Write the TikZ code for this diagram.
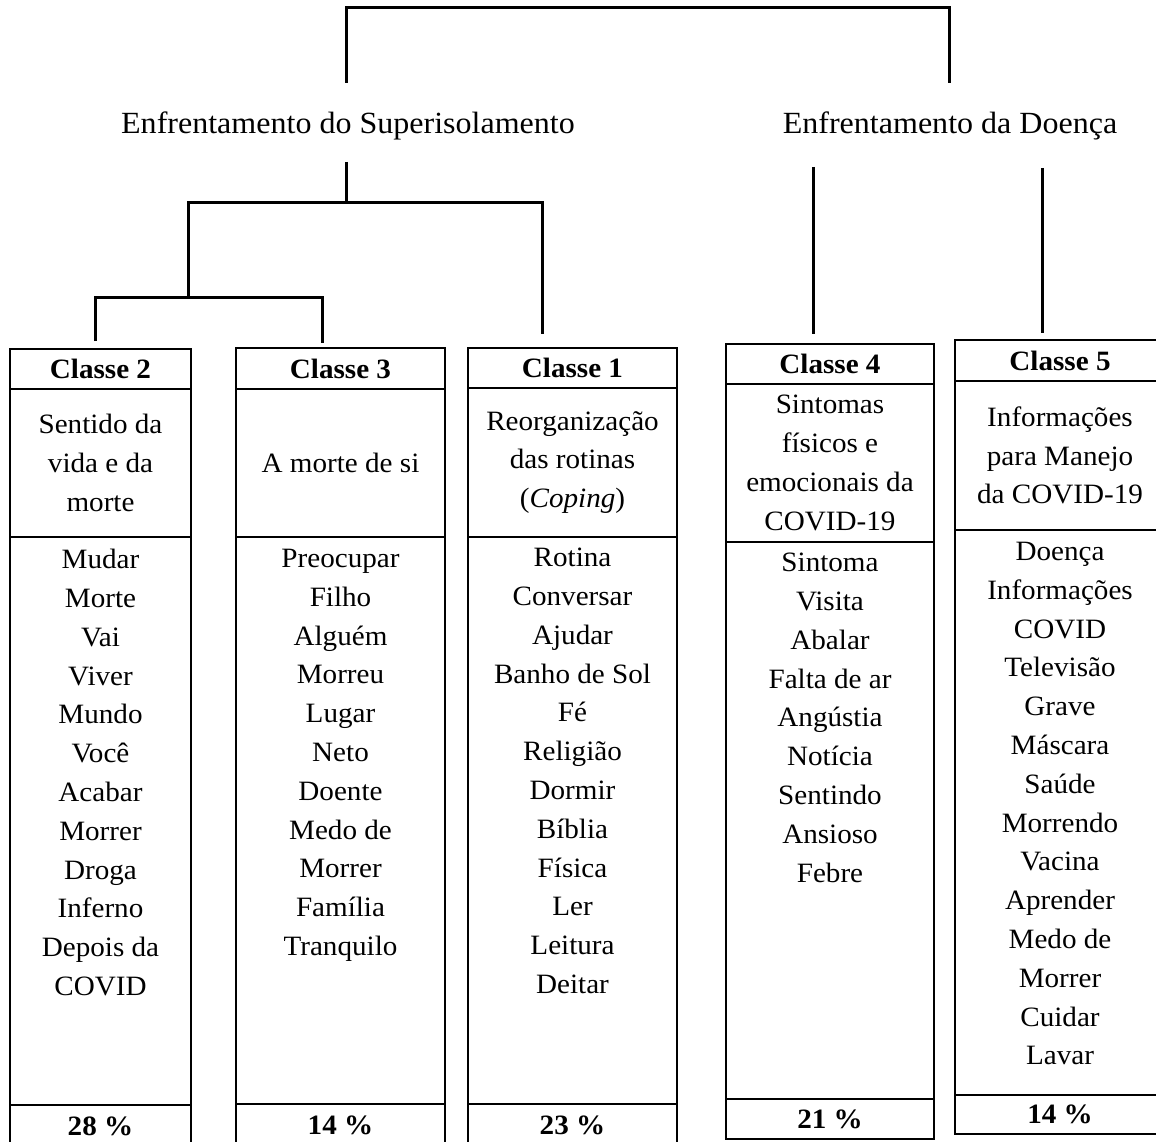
\documentclass[tikz,border=0pt]{standalone}
\usepackage{fontspec}
\setmainfont{Liberation Serif}[FakeStretch=1.04]
\usetikzlibrary{positioning}
\tikzset{
cell/.style={draw,line width=2pt,inner sep=0pt,outer sep=0pt,align=center,font=\fontsize{28pt}{38.8pt}\selectfont},
head/.style={cell,font=\fontsize{28pt}{38.8pt}\selectfont\bfseries},
words/.style={inner sep=0pt,align=center,font=\fontsize{28pt}{38.8pt}\selectfont},
group/.style={inner sep=0pt,font=\fontsize{30.8pt}{38pt}\selectfont},
link/.style={line width=3pt}}

\begin{document}
\begin{tikzpicture}[x=1pt,y=-1pt]
\useasboundingbox (0,0) rectangle (1156,1142);
% the two groups
\node[group,anchor=base] (sup) at (348,134) {Enfrentamento do Superisolamento};
\node[group,anchor=base] (doe) at (950,134) {Enfrentamento da Doença};
% Classe 2
\node[head,minimum width=181pt,minimum height=40pt] (c2h) at (100.5,369) {Classe 2};
\node[cell,minimum width=181pt,minimum height=148pt,below=0pt of c2h] (c2t) {Sentido da\\vida e da\\morte};
\node[cell,minimum width=181pt,minimum height=568pt,below=0pt of c2t] (c2l) {};
\node[head,minimum width=181pt,minimum height=42pt,below=0pt of c2l] (c2p) {28 \%};
\node[words,below=12pt of c2l.north] (c2w) {Mudar\\Morte\\Vai\\Viver\\Mundo\\Você\\Acabar\\Morrer\\Droga\\Inferno\\Depois da\\COVID};
% Classe 3
\node[head,minimum width=209pt,minimum height=41pt] (c3h) at (340.5,368.5) {Classe 3};
\node[cell,minimum width=209pt,minimum height=148pt,below=0pt of c3h] (c3t) {A morte de si};
\node[cell,minimum width=209pt,minimum height=567pt,below=0pt of c3t] (c3l) {};
\node[head,minimum width=209pt,minimum height=43pt,below=0pt of c3l] (c3p) {14 \%};
\node[words,below=12pt of c3l.north] (c3w) {Preocupar\\Filho\\Alguém\\Morreu\\Lugar\\Neto\\Doente\\Medo de\\Morrer\\Família\\Tranquilo};
% Classe 1
\node[head,minimum width=209pt,minimum height=40pt] (c1h) at (572.5,368) {Classe 1};
\node[cell,minimum width=209pt,minimum height=149pt,below=0pt of c1h] (c1t) {Reorganização\\das rotinas\\(\textit{Coping})};
\node[cell,minimum width=209pt,minimum height=567pt,below=0pt of c1t] (c1l) {};
\node[head,minimum width=209pt,minimum height=43pt,below=0pt of c1l] (c1p) {23 \%};
\node[words,below=11pt of c1l.north] (c1w) {Rotina\\Conversar\\Ajudar\\Banho de Sol\\Fé\\Religião\\Dormir\\Bíblia\\Física\\Ler\\Leitura\\Deitar};
% Classe 4
\node[head,minimum width=208pt,minimum height=40pt] (c4h) at (830,364) {Classe 4};
\node[cell,minimum width=208pt,minimum height=158pt,below=0pt of c4h] (c4t) {Sintomas\\físicos e\\emocionais da\\COVID-19};
\node[cell,minimum width=208pt,minimum height=557pt,below=0pt of c4t] (c4l) {};
\node[head,minimum width=208pt,minimum height=40pt,below=0pt of c4l] (c4p) {21 \%};
\node[words,below=11pt of c4l.north] (c4w) {Sintoma\\Visita\\Abalar\\Falta de ar\\Angústia\\Notícia\\Sentindo\\Ansioso\\Febre};
% Classe 5
\node[head,minimum width=210pt,minimum height=41pt] (c5h) at (1060,360.5) {Classe 5};
\node[cell,minimum width=210pt,minimum height=149pt,below=0pt of c5h] (c5t) {Informações\\para Manejo\\da COVID-19};
\node[cell,minimum width=210pt,minimum height=565pt,below=0pt of c5t] (c5l) {};
\node[head,minimum width=210pt,minimum height=39pt,below=0pt of c5l] (c5p) {14 \%};
\node[words,below=12pt of c5l.north] (c5w) {Doença\\Informações\\COVID\\Televisão\\Grave\\Máscara\\Saúde\\Morrendo\\Vacina\\Aprender\\Medo de\\Morrer\\Cuidar\\Lavar};
% dendrogram
\coordinate (root) at (648,8);
\coordinate (supT) at (346,83);
\coordinate (doeT) at (949,83);
\coordinate (supB) at (346,162);
\coordinate (jS) at (346,203);
\coordinate (j23) at (188,297);
\coordinate (t2) at (95,341);
\coordinate (t3) at (322,343);
\coordinate (t1) at (542,334);
\coordinate (doeB4) at (813,167);
\coordinate (t4) at (813,334);
\coordinate (doeB5) at (1042,168);
\coordinate (t5) at (1042,333);
\draw[link] (supT) |- (root) -| (doeT);
\draw[link] (supB) -- (jS);
\draw[link] (j23) |- (jS) -| (t1);
\draw[link] (t2) |- (j23) -| (t3);
\draw[link] (doeB4) -- (t4);
\draw[link] (doeB5) -- (t5);
\end{tikzpicture}
\end{document}
